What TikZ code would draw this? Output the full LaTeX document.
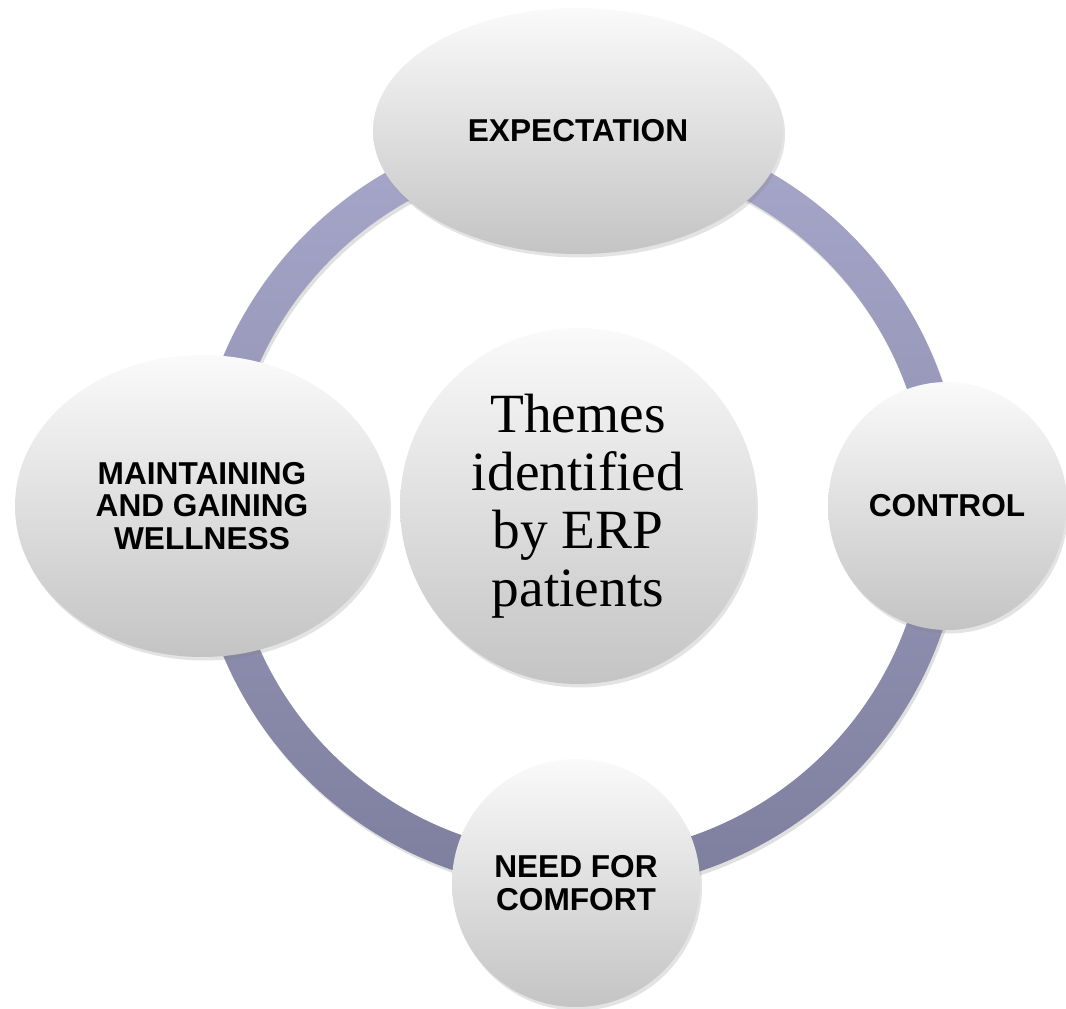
\documentclass[tikz,border=0pt]{standalone}
\usepackage{fontspec}
\setmainfont{Liberation Serif}
\setsansfont{Liberation Sans}
\usetikzlibrary{calc,shapes.geometric,shadows}
\definecolor{ringtop}{RGB}{167,167,203}
\definecolor{ringbot}{RGB}{126,126,158}
\definecolor{balltop}{RGB}{250,250,250}
\definecolor{ballbot}{RGB}{196,196,196}

\begin{document}
\begin{tikzpicture}[
    theme/.style={ellipse, inner sep=0pt, align=center,
        top color=balltop, bottom color=ballbot,
        drop shadow={opacity=0.22, shadow xshift=0.04cm, shadow yshift=-0.07cm},
        font=\sffamily\bfseries\fontsize{18}{18.6}\selectfont},
    hub/.style={circle, inner sep=0pt, align=center, minimum size=7.12cm,
        top color=balltop, bottom color=ballbot,
        drop shadow={opacity=0.22, shadow xshift=0.04cm, shadow yshift=-0.07cm},
        font=\fontsize{31.5}{33}\selectfont}]
    \useasboundingbox (0,0) rectangle (21.32,-20.18);
    \coordinate (c) at (11.56,-10.12);

    % ring with its shadow
    \fill[black, opacity=0.12, even odd rule]
        ($(c)+(0.04,-0.07)$) circle (7.7) ($(c)+(0.04,-0.07)$) circle (6.98);
    \shade[top color=ringtop, bottom color=ringbot, even odd rule]
        (c) circle (7.7) (c) circle (6.98);

    \node[hub] (erp) at (c) {Themes\\identified\\by ERP\\patients};

    \node[theme, minimum width=8.2cm, minimum height=4.92cm] (exp)
        at ($(c)+(0,7.5)$) {EXPECTATION};
    \node[theme, minimum width=4.76cm, minimum height=4.96cm] (ctrl)
        at ($(c)+(7.38,0)$) {CONTROL};
    \node[theme, minimum width=4.96cm, minimum height=4.96cm] (comf)
        at ($(c)+(-0.04,-7.54)$) {NEED FOR\\COMFORT};
    \node[theme, minimum width=7.48cm, minimum height=6.04cm] (main)
        at ($(c)+(-7.52,0)$) {MAINTAINING\\AND GAINING\\WELLNESS};
\end{tikzpicture}
\end{document}
